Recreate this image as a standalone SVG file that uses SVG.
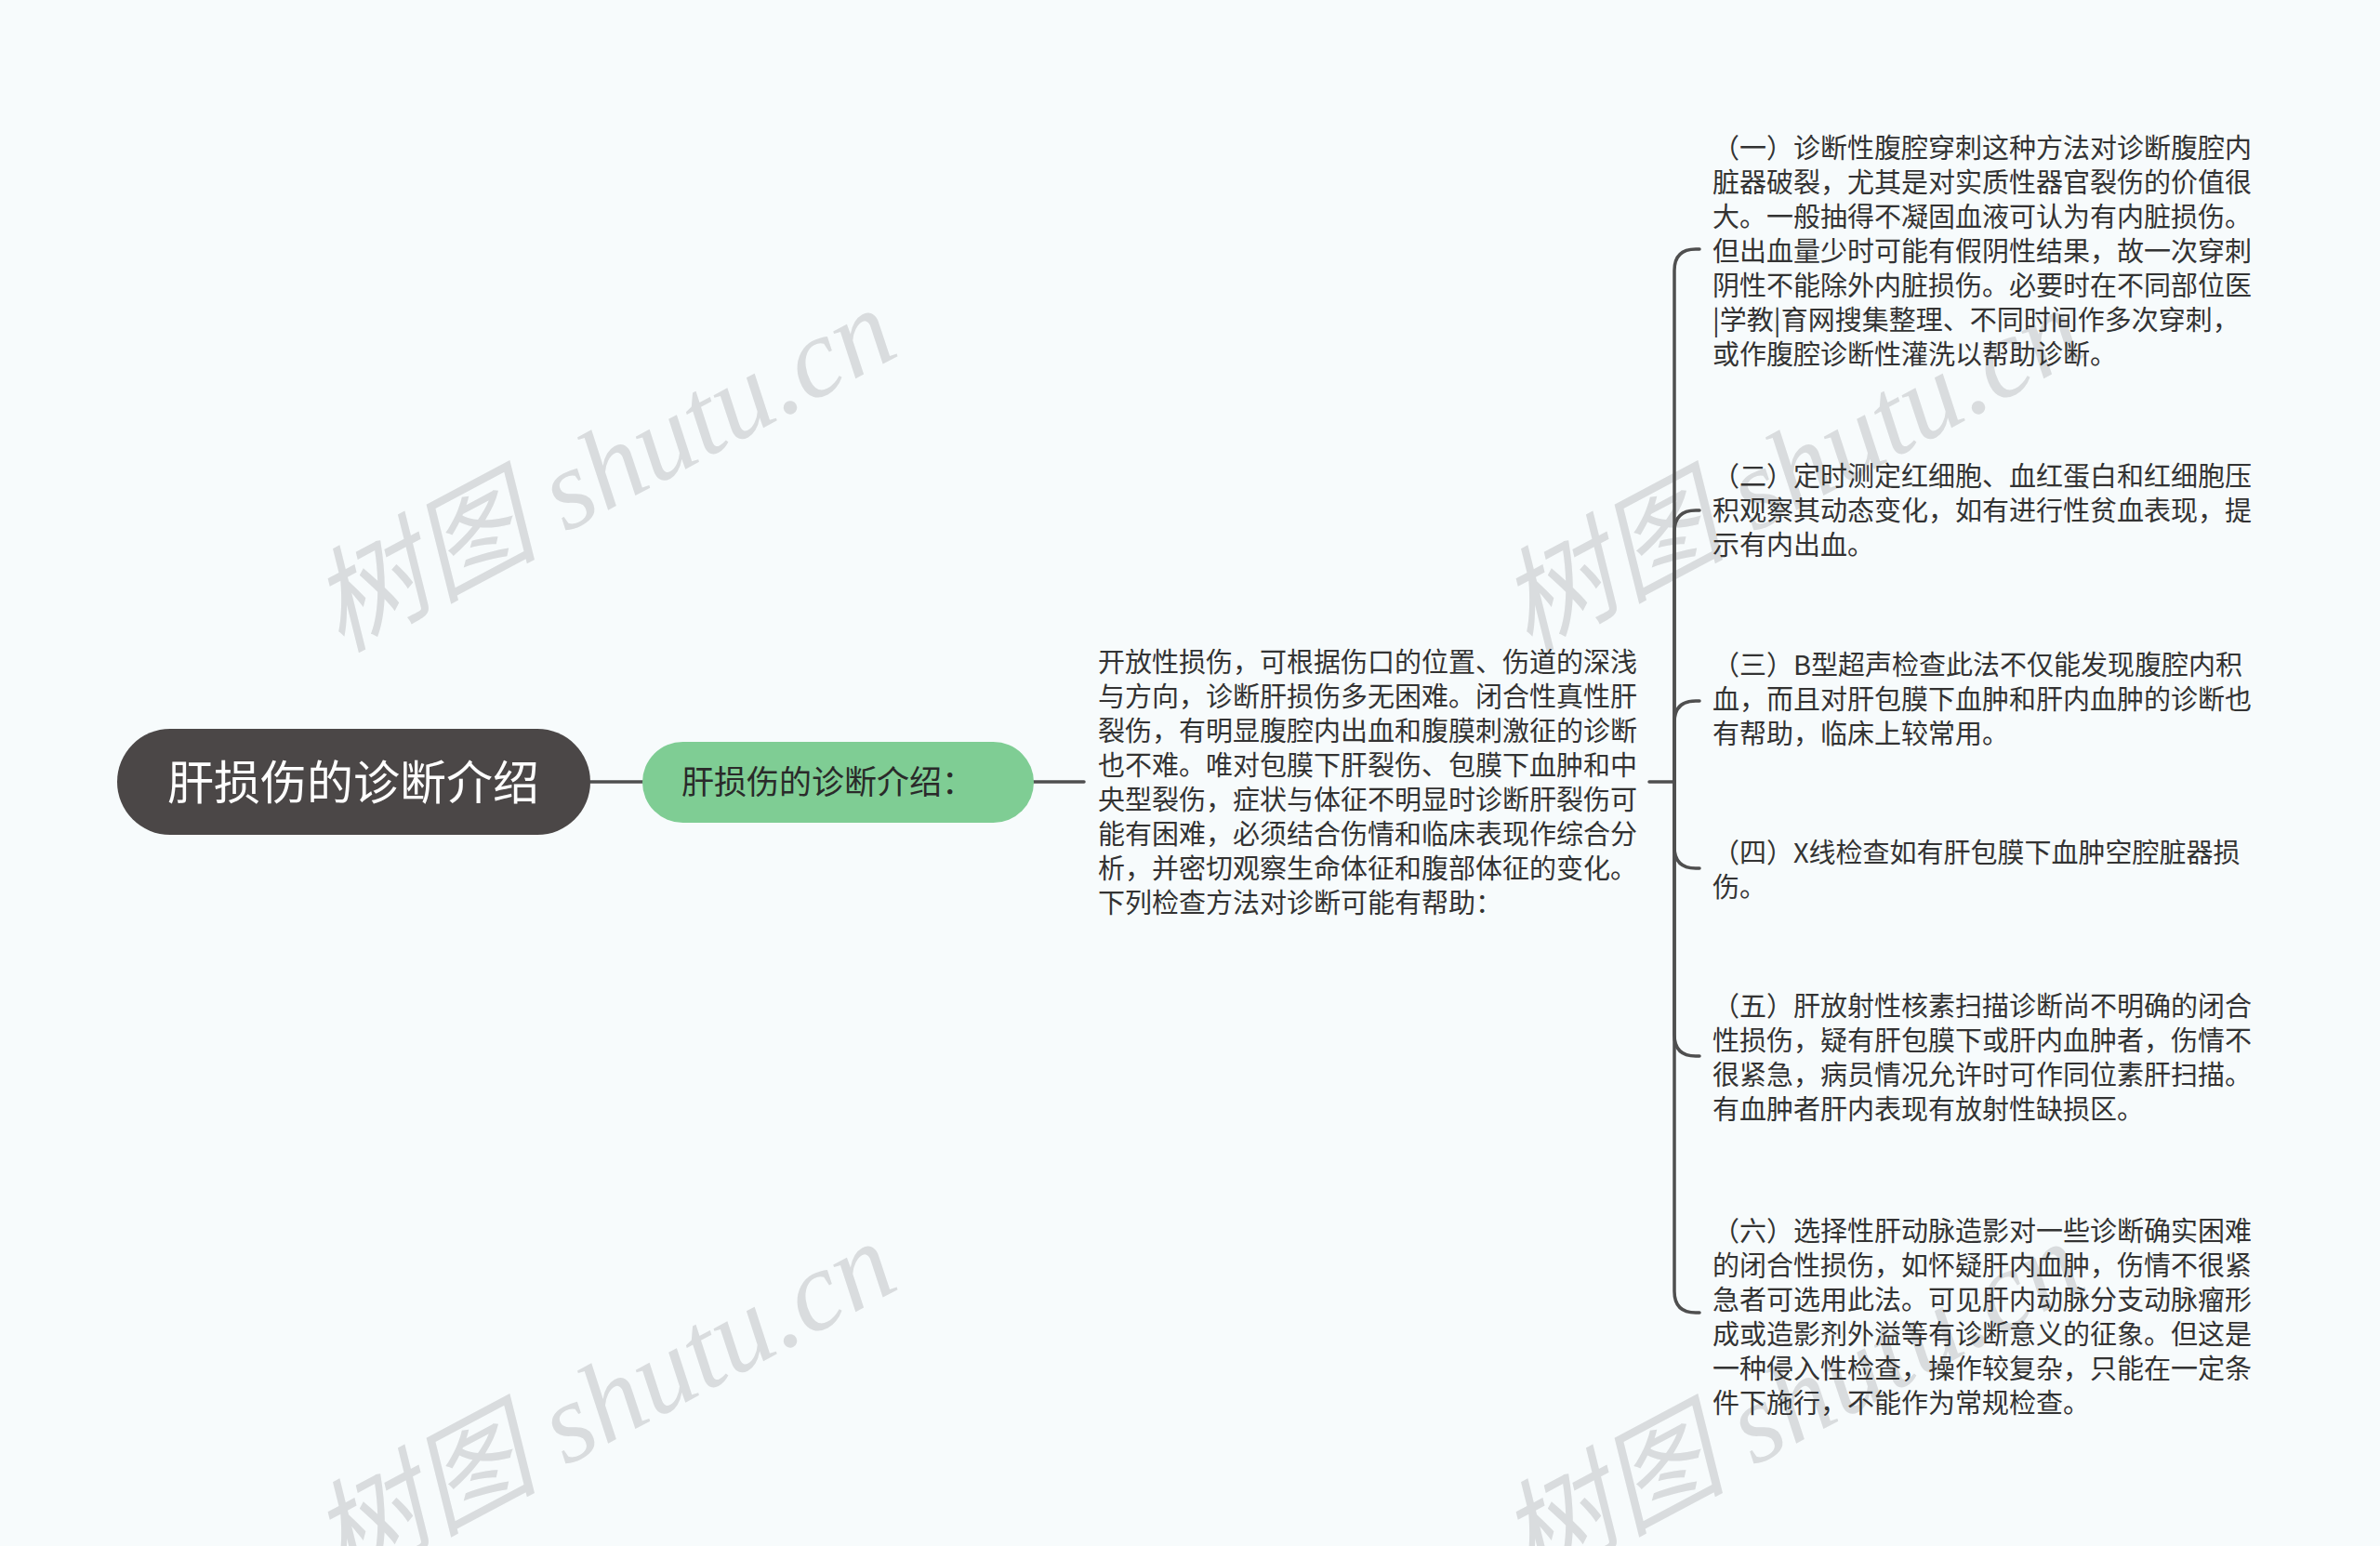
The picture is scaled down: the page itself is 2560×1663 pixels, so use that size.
<svg xmlns="http://www.w3.org/2000/svg" width="2560" height="1663" viewBox="0 0 2560 1663">
<style>
.wm{font-family:"Liberation Serif","Noto Sans CJK SC",serif;font-style:italic;font-size:122px;fill:#d9dcde}
.t{font-family:"Noto Sans CJK SC","Noto Sans",sans-serif;font-size:29px;fill:#333333}
.root{font-family:"Noto Sans CJK SC","Noto Sans",sans-serif;font-size:50px;fill:#ffffff}
.sub{font-family:"Noto Sans CJK SC","Noto Sans",sans-serif;font-size:35px;fill:#2a2a2a}
.c{fill:none;stroke:#4f4f4f;stroke-width:3.5;stroke-linecap:round;stroke-linejoin:round}
</style>
<rect width="2560" height="1663" fill="#f7fbfc"/>
<g id="watermarks">
<text class="wm" transform="translate(366 702) rotate(-28)">树图 shutu.cn</text>
<text class="wm" transform="translate(1644 702) rotate(-28)">树图 shutu.cn</text>
<text class="wm" transform="translate(366 1706) rotate(-28)">树图 shutu.cn</text>
<text class="wm" transform="translate(1644 1706) rotate(-28)">树图 shutu.cn</text>
</g>
<g id="connectors">
<path class="c" d="M635 841H691"/>
<path class="c" d="M1112 841H1166"/>
<path class="c" d="M1774 841H1801"/>
<path class="c" d="M1801 841V291Q1801 268 1824 268H1828"/>
<path class="c" d="M1801 841V572Q1801 549 1824 549H1828"/>
<path class="c" d="M1801 841V777Q1801 754 1824 754H1828"/>
<path class="c" d="M1801 841V911Q1801 934 1824 934H1828"/>
<path class="c" d="M1801 841V1113Q1801 1136 1824 1136H1828"/>
<path class="c" d="M1801 841V1389Q1801 1412 1824 1412H1828"/>
</g>
<g id="root">
<rect x="126" y="784" width="509" height="114" rx="57" fill="#4b4747"/>
<text class="root" x="380" y="860" text-anchor="middle">肝损伤的诊断介绍</text>
</g>
<g id="branch">
<rect x="691" y="798" width="421" height="87" rx="43.5" fill="#7fcd94"/>
<text class="sub" x="733" y="854">肝损伤的诊断介绍：</text>
</g>
<g id="summary">
<text class="t" x="1181" y="723">开放性损伤，可根据伤口的位置、伤道的深浅</text>
<text class="t" x="1181" y="760">与方向，诊断肝损伤多无困难。闭合性真性肝</text>
<text class="t" x="1181" y="797">裂伤，有明显腹腔内出血和腹膜刺激征的诊断</text>
<text class="t" x="1181" y="834">也不难。唯对包膜下肝裂伤、包膜下血肿和中</text>
<text class="t" x="1181" y="871">央型裂伤，症状与体征不明显时诊断肝裂伤可</text>
<text class="t" x="1181" y="908">能有困难，必须结合伤情和临床表现作综合分</text>
<text class="t" x="1181" y="945">析，并密切观察生命体征和腹部体征的变化。</text>
<text class="t" x="1181" y="982">下列检查方法对诊断可能有帮助：</text>
</g>
<g id="item1">
<text class="t" x="1842" y="170">（一）诊断性腹腔穿刺这种方法对诊断腹腔内</text>
<text class="t" x="1842" y="207">脏器破裂，尤其是对实质性器官裂伤的价值很</text>
<text class="t" x="1842" y="244">大。一般抽得不凝固血液可认为有内脏损伤。</text>
<text class="t" x="1842" y="281">但出血量少时可能有假阴性结果，故一次穿刺</text>
<text class="t" x="1842" y="318">阴性不能除外内脏损伤。必要时在不同部位医</text>
<text class="t" x="1842" y="355">|学教|育网搜集整理、不同时间作多次穿刺，</text>
<text class="t" x="1842" y="392">或作腹腔诊断性灌洗以帮助诊断。</text>
</g>
<g id="item2">
<text class="t" x="1842" y="523">（二）定时测定红细胞、血红蛋白和红细胞压</text>
<text class="t" x="1842" y="560">积观察其动态变化，如有进行性贫血表现，提</text>
<text class="t" x="1842" y="597">示有内出血。</text>
</g>
<g id="item3">
<text class="t" x="1842" y="726">（三）B型超声检查此法不仅能发现腹腔内积</text>
<text class="t" x="1842" y="763">血，而且对肝包膜下血肿和肝内血肿的诊断也</text>
<text class="t" x="1842" y="800">有帮助，临床上较常用。</text>
</g>
<g id="item4">
<text class="t" x="1842" y="928">（四）X线检查如有肝包膜下血肿空腔脏器损</text>
<text class="t" x="1842" y="965">伤。</text>
</g>
<g id="item5">
<text class="t" x="1842" y="1093">（五）肝放射性核素扫描诊断尚不明确的闭合</text>
<text class="t" x="1842" y="1130">性损伤，疑有肝包膜下或肝内血肿者，伤情不</text>
<text class="t" x="1842" y="1167">很紧急，病员情况允许时可作同位素肝扫描。</text>
<text class="t" x="1842" y="1204">有血肿者肝内表现有放射性缺损区。</text>
</g>
<g id="item6">
<text class="t" x="1842" y="1335">（六）选择性肝动脉造影对一些诊断确实困难</text>
<text class="t" x="1842" y="1372">的闭合性损伤，如怀疑肝内血肿，伤情不很紧</text>
<text class="t" x="1842" y="1409">急者可选用此法。可见肝内动脉分支动脉瘤形</text>
<text class="t" x="1842" y="1446">成或造影剂外溢等有诊断意义的征象。但这是</text>
<text class="t" x="1842" y="1483">一种侵入性检查，操作较复杂，只能在一定条</text>
<text class="t" x="1842" y="1520">件下施行，不能作为常规检查。</text>
</g>
</svg>
